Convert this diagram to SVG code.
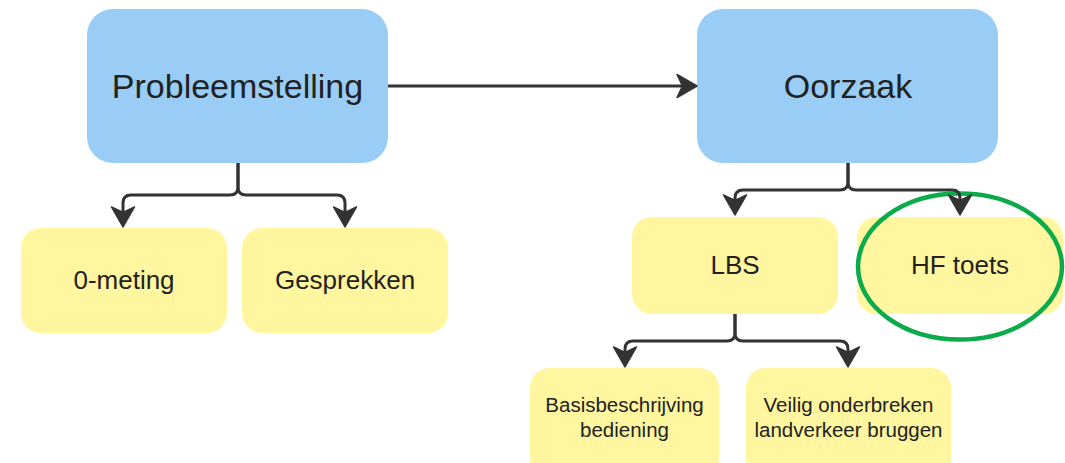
<svg xmlns="http://www.w3.org/2000/svg" width="1065" height="463" viewBox="0 0 1065 463">
<style>
.blue{fill:#99CDF6;}
.yel{fill:#FFF69F;}
.t{font-family:"Liberation Sans",Arial,sans-serif;fill:#222;text-anchor:middle;}
.big{font-size:34px;}
.mid{font-size:26px;}
.sm{font-size:20.5px;}
.c{fill:none;stroke:#333;stroke-width:3;marker-end:url(#ah);}
</style>
<defs>
<marker id="ah" markerUnits="userSpaceOnUse" orient="auto" refX="-14" refY="0" markerWidth="1" markerHeight="1" overflow="visible">
<path d="M0,0 L-20,-11.5 L-14.5,0 L-20,11.5 Z" fill="#333" stroke="#333" stroke-width="1.5" stroke-linejoin="round"/>
</marker>
</defs>
<rect width="1065" height="463" fill="#fff"/>
<g id="probleemstelling"><rect class="blue" x="87" y="9" width="301" height="154" rx="26"/><text class="t big" x="237.5" y="98">Probleemstelling</text></g>
<g id="oorzaak"><rect class="blue" x="697" y="9" width="301" height="154" rx="26"/><text class="t big" x="848" y="98">Oorzaak</text></g>
<g id="nulmeting"><rect class="yel" x="21" y="228" width="206" height="105" rx="20"/><text class="t mid" x="124" y="289">0-meting</text></g>
<g id="gesprekken"><rect class="yel" x="242" y="228" width="206" height="105" rx="20"/><text class="t mid" x="345" y="289">Gesprekken</text></g>
<g id="lbs"><rect class="yel" x="632" y="217" width="206" height="97" rx="20"/><text class="t mid" x="735" y="274">LBS</text></g>
<g id="hftoets"><rect class="yel" x="857" y="217" width="206" height="97" rx="20"/><text class="t mid" x="960" y="274">HF toets</text></g>
<g id="basis"><rect class="yel" x="530" y="368" width="189" height="110" rx="20"/><text class="t sm" x="624.5" y="412">Basisbeschrijving</text><text class="t sm" x="624.5" y="437">bediening</text></g>
<g id="veilig"><rect class="yel" x="746" y="368" width="205" height="110" rx="20"/><text class="t sm" x="848.5" y="412">Veilig onderbreken</text><text class="t sm" x="848.5" y="437">landverkeer bruggen</text></g>
<g id="highlight"><ellipse cx="960" cy="266.5" rx="102" ry="73" fill="none" stroke="#0BAA4B" stroke-width="4.5"/></g>
<g id="connectors">
<path class="c" d="M388,86 H683"/>
<path class="c" d="M238,163 V187 Q238,195 230,195 H131 Q123,195 123,203 V213"/>
<path class="c" d="M238,163 V187 Q238,195 246,195 H337 Q345,195 345,203 V213"/>
<path class="c" d="M848,163 V182 Q848,190 840,190 H743 Q735,190 735,198 V201"/>
<path class="c" d="M848,163 V182 Q848,190 856,190 H952 Q960,190 960,198 V201"/>
<path class="c" d="M735,314 V333 Q735,341 727,341 H633 Q625,341 625,349 V353"/>
<path class="c" d="M735,314 V333 Q735,341 743,341 H840 Q848,341 848,349 V353"/>
</g>
</svg>
